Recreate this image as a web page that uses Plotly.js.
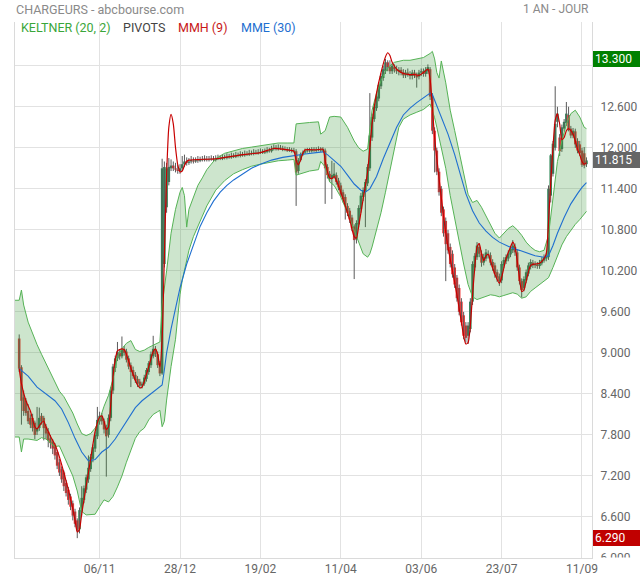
<!DOCTYPE html>
<html><head><meta charset="utf-8">
<script src="https://cdn.plot.ly/plotly-3.0.1.min.js"></script>
<style>html,body{margin:0;padding:0;background:#fff}#chart{width:640px;height:580px}</style>
</head><body><div id="chart"></div>
<script>
// ---- DATA ----
const firstIdx = 2; // index of first candle on the daily axis
const opens = [
9.21,8.79,8.35,8.30,8.15,8.05,8.05,7.98,7.85,7.90,
8.08,8.05,7.92,7.85,7.75,7.70,7.65,7.55,7.40,7.30,
7.25,7.10,7.00,6.90,6.80,6.68,6.55,6.42,6.68,6.85,
7.00,7.15,7.30,7.45,7.60,7.78,8.00,8.08,8.00,7.90,
7.80,8.05,8.45,8.78,8.92,9.00,8.95,9.05,9.02,8.92,
8.82,8.75,8.68,8.62,8.58,8.52,8.55,8.62,8.72,8.82,
8.95,9.05,8.98,8.85,8.70,10.30,11.13,11.50,11.70,11.74,
11.70,11.68,11.66,11.70,11.76,11.80,11.78,11.80,11.81,11.80,
11.82,11.81,11.83,11.82,11.83,11.82,11.83,11.84,11.82,11.84,
11.85,11.84,11.86,11.85,11.87,11.86,11.88,11.87,11.89,11.88,
11.90,11.89,11.91,11.90,11.92,11.91,11.93,11.92,11.93,11.94,
11.93,11.94,11.96,11.95,11.98,12.00,11.98,12.00,11.99,11.97,
11.98,11.96,11.97,11.95,11.95,11.66,11.82,11.90,11.93,11.95,
11.96,11.95,11.97,11.96,11.97,11.98,11.96,11.96,11.72,11.62,
11.55,11.58,11.60,11.52,11.45,11.35,11.28,11.15,11.08,10.98,
10.85,10.66,10.88,11.10,11.28,11.36,11.48,11.70,12.15,12.42,
12.58,12.72,12.90,13.02,13.12,13.25,13.18,13.12,13.18,13.15,
13.12,13.14,13.10,13.06,13.10,13.08,13.05,13.10,13.06,13.04,
13.10,13.12,13.08,13.12,13.15,12.75,12.25,11.96,11.65,11.40,
11.10,10.93,10.75,10.55,10.45,10.25,10.10,9.95,9.75,9.55,
9.40,9.25,9.35,9.75,10.25,10.40,10.55,10.45,10.32,10.38,
10.45,10.43,10.33,10.28,10.18,10.12,10.06,10.28,10.34,10.38,
10.44,10.50,10.55,10.47,10.25,10.05,9.95,10.06,10.16,10.26,
10.32,10.28,10.29,10.27,10.31,10.35,10.38,10.40,11.30,11.62,
12.00,12.38,12.15,11.98,12.28,12.36,12.48,12.28,12.18,12.24,
12.10,12.05,11.96,11.92,11.76];
const highs = [
9.27,8.82,8.45,8.34,8.25,8.10,8.11,8.01,8.21,8.20,
8.12,8.08,7.96,7.90,7.80,7.74,7.68,7.58,7.45,7.34,
7.28,7.14,7.04,6.94,6.84,6.72,6.58,6.74,7.05,7.06,
7.22,7.50,7.52,7.66,7.85,8.21,8.14,8.12,8.04,7.95,
8.10,8.50,8.84,8.96,9.16,9.05,9.24,9.10,9.06,8.96,
8.86,8.80,8.72,8.66,8.62,8.58,8.68,8.78,8.88,9.02,
9.25,9.10,9.02,8.88,11.84,11.80,11.78,11.85,11.83,11.80,
11.78,11.75,11.76,11.88,11.90,11.86,11.85,11.88,11.86,11.86,
11.88,11.87,11.88,11.89,11.88,11.88,11.89,11.88,11.89,11.90,
11.89,11.91,11.90,11.92,11.91,11.93,11.92,11.94,11.93,11.95,
11.94,11.96,11.95,11.97,11.96,11.98,11.97,11.98,11.99,11.98,
11.99,12.01,12.00,12.03,12.05,12.04,12.05,12.04,12.03,12.02,
12.01,12.01,12.00,12.00,11.98,11.85,11.93,11.96,11.99,12.00,
12.00,12.01,12.01,12.01,12.02,12.01,12.01,11.99,11.76,11.66,
11.81,11.78,11.64,11.56,11.49,11.39,11.32,11.19,11.12,11.02,
10.88,10.94,11.16,11.34,11.42,11.54,11.76,12.80,12.50,12.64,
12.80,12.96,13.09,13.20,13.30,13.28,13.28,13.24,13.22,13.20,
13.18,13.18,13.15,13.14,13.16,13.12,13.14,13.14,13.10,13.14,
13.16,13.16,13.18,13.22,13.18,12.80,12.30,12.00,11.70,11.44,
11.14,10.98,10.80,10.60,10.50,10.30,10.14,10.00,9.80,9.60,
9.45,9.45,9.80,10.34,10.46,10.62,10.60,10.50,10.45,10.52,
10.50,10.47,10.37,10.32,10.22,10.16,10.34,10.40,10.44,10.50,
10.56,10.65,10.60,10.51,10.29,10.09,10.12,10.22,10.32,10.37,
10.36,10.34,10.33,10.36,10.40,10.44,10.46,11.45,11.91,12.10,
12.90,12.60,12.20,12.34,12.42,12.67,12.60,12.32,12.29,12.28,
12.14,12.10,12.00,12.01,11.86];
const lows = [
8.72,7.95,8.08,8.08,7.96,7.90,7.85,7.74,7.80,7.86,
7.95,7.72,7.74,7.62,7.60,7.52,7.44,7.30,7.20,7.10,
6.98,6.90,6.78,6.70,6.55,6.45,6.29,6.36,6.62,6.80,
6.95,7.10,7.26,7.40,7.55,7.74,7.95,7.95,7.82,7.19,
7.76,8.00,8.40,8.72,8.88,8.90,8.92,8.96,8.86,8.76,
8.50,8.62,8.56,8.50,8.48,8.48,8.52,8.58,8.68,8.78,
8.92,8.94,8.78,8.66,8.68,10.25,11.05,11.45,11.66,11.66,
11.64,11.62,11.62,11.66,11.72,11.74,11.75,11.77,11.77,11.78,
11.78,11.79,11.80,11.80,11.80,11.80,11.81,11.80,11.80,11.82,
11.82,11.82,11.83,11.83,11.84,11.84,11.85,11.85,11.86,11.86,
11.87,11.87,11.88,11.88,11.89,11.89,11.90,11.90,11.91,11.91,
11.91,11.92,11.93,11.93,11.96,11.96,11.96,11.97,11.95,11.95,
11.94,11.94,11.93,11.93,11.15,11.62,11.80,11.88,11.91,11.93,
11.93,11.93,11.94,11.94,11.95,11.94,11.94,11.18,11.55,11.50,
11.25,11.55,11.46,11.38,11.28,11.20,10.95,11.00,10.90,10.78,
10.08,10.60,10.84,11.05,11.22,10.84,11.44,11.66,12.10,12.38,
12.54,12.68,12.86,12.98,13.08,13.12,13.08,13.08,13.10,13.08,
13.06,13.06,13.02,13.02,13.04,13.00,13.00,13.02,12.88,13.00,
13.05,13.04,13.04,13.08,12.70,12.20,11.64,11.60,11.30,11.00,
10.70,10.05,10.45,10.25,10.10,9.95,9.75,9.55,9.40,9.20,
9.15,9.13,9.30,9.70,10.20,10.36,10.40,10.26,10.28,10.34,
10.38,10.28,10.20,10.10,10.04,9.98,10.02,10.24,10.30,10.34,
10.40,10.46,10.42,10.20,10.00,9.81,9.90,10.02,10.12,10.22,
10.24,10.24,10.23,10.23,10.28,10.32,10.34,10.36,11.20,11.58,
11.96,12.30,11.88,11.94,12.24,12.32,12.24,12.14,12.14,12.00,
11.92,11.88,11.72,11.70,11.72];
const closes = [
8.77,8.30,8.15,8.12,8.00,7.95,7.90,7.80,7.90,8.05,
8.00,7.90,7.82,7.72,7.68,7.60,7.50,7.35,7.25,7.15,
7.05,6.95,6.85,6.75,6.62,6.50,6.40,6.70,6.88,7.02,
7.18,7.32,7.48,7.62,7.80,8.02,8.08,8.00,7.88,7.78,
8.05,8.45,8.80,8.92,9.02,8.95,9.05,9.00,8.90,8.80,
8.72,8.66,8.60,8.55,8.52,8.55,8.64,8.75,8.85,8.98,
9.06,8.98,8.82,8.70,11.70,11.72,11.70,11.72,11.74,11.70,
11.68,11.66,11.70,11.76,11.80,11.78,11.80,11.82,11.80,11.82,
11.81,11.83,11.82,11.84,11.82,11.83,11.84,11.82,11.84,11.85,
11.84,11.86,11.85,11.87,11.86,11.88,11.87,11.89,11.88,11.90,
11.89,11.91,11.90,11.92,11.91,11.93,11.92,11.93,11.94,11.93,
11.94,11.96,11.95,11.98,12.00,11.98,12.00,11.99,11.97,11.98,
11.96,11.97,11.95,11.96,11.64,11.82,11.90,11.93,11.95,11.96,
11.95,11.97,11.96,11.97,11.98,11.96,11.98,11.70,11.60,11.55,
11.60,11.62,11.50,11.42,11.32,11.25,11.15,11.05,10.95,10.82,
10.65,10.90,11.12,11.30,11.38,11.50,11.72,12.18,12.45,12.60,
12.75,12.92,13.05,13.15,13.25,13.18,13.12,13.20,13.15,13.12,
13.14,13.10,13.06,13.10,13.08,13.05,13.10,13.06,13.03,13.10,
13.12,13.08,13.14,13.18,12.75,12.25,11.96,11.65,11.35,11.05,
10.75,10.59,10.50,10.30,10.15,10.00,9.80,9.60,9.45,9.25,
9.22,9.40,9.75,10.30,10.42,10.57,10.45,10.32,10.40,10.47,
10.43,10.32,10.25,10.16,10.10,10.05,10.30,10.36,10.40,10.45,
10.52,10.57,10.47,10.25,10.05,9.92,10.08,10.18,10.28,10.33,
10.28,10.30,10.27,10.32,10.36,10.40,10.42,11.40,11.89,12.06,
12.35,12.50,11.95,12.30,12.38,12.50,12.28,12.18,12.25,12.05,
11.96,11.92,11.75,11.74,11.815];

// Keltner (20, 2) channel, read at these day indices
const kx = [0,2,3,4,6,8,10,12,14,16, 18,20,22,24,26,28,30,32,34,36, 38,40,42,44,46,48,50,52,54,56,
58,60,62,64,65,66,67,68,70,72, 74,75,76,77,78,80,82,84,86,88, 90,94,98,102,106,110,114,118,122,125,
126,128,132,136,137,139,141,143,146,149, 152,154,156,158,159,160,162,164,166,168, 170,172,174,177,180,183,186,187,188,189,
190,191,193,195,197,199,201,203,205,207, 209,211,213,215,217,219,221,223,225,227, 229,231,233,235,237,239,241,243,245,247,
249,251,253,255,256];
const kUpper = [9.77,9.77,9.92,9.70,9.45,9.28,9.12,8.98,8.85,8.72, 8.58,8.44,8.36,8.24,8.12,7.96,7.82,7.79,7.82,7.90, 8.02,8.22,8.38,8.62,8.95,9.06,9.14,9.18,9.05,9.02,
9.04,9.08,9.11,9.14,9.16,9.70,10.00,10.20,10.75,11.10, 11.35,11.42,11.30,10.84,11.10,11.28,11.45,11.56,11.68,11.76, 11.84,11.92,11.96,11.99,12.01,12.03,12.05,12.07,12.07,12.07,
12.35,12.36,12.37,12.38,12.20,12.25,12.45,12.46,12.45,12.30, 12.10,12.00,11.95,11.98,12.30,12.55,12.80,12.98,13.12,13.20, 13.25,13.27,13.28,13.28,13.30,13.32,13.38,13.41,13.30,13.10,
13.02,13.27,12.95,12.55,12.25,11.95,11.60,11.32,11.20,11.23, 11.13,11.00,10.88,10.75,10.68,10.75,10.82,10.86,10.80,10.72, 10.62,10.55,10.50,10.48,10.50,10.72,11.30,11.80,12.10,12.35,
12.50,12.55,12.45,12.30,12.28];
const kLower = [7.77,7.77,7.55,7.74,7.74,7.73,7.72,7.76,7.74,7.68, 7.63,7.64,7.50,7.36,7.20,6.98,6.68,6.63,6.63,6.64, 6.75,6.85,6.82,6.90,7.04,7.20,7.40,7.58,7.75,7.85,
7.90,8.02,8.10,8.14,8.16,7.92,8.00,8.31,8.80,9.20, 9.85,10.06,10.20,10.35,10.50,10.70,10.86,11.00,11.15,11.27, 11.38,11.52,11.62,11.68,11.73,11.76,11.79,11.81,11.82,11.83,
11.60,11.62,11.66,11.68,11.80,11.72,11.50,11.45,11.28,11.05, 10.80,10.62,10.45,10.40,10.45,10.55,10.80,11.05,11.35,11.65, 11.95,12.30,12.42,12.48,12.52,12.56,12.64,12.55,12.44,12.30,
12.15,12.05,11.70,11.30,10.95,10.60,10.30,10.00,9.82,9.78, 9.80,9.82,9.85,9.84,9.82,9.84,9.86,9.88,9.86,9.80, 9.82,9.90,9.95,10.00,10.04,10.10,10.25,10.42,10.58,10.70,
10.80,10.88,10.95,11.03,11.07];

// MMH (9)
const mmhX = [2,3,5,7,9,10,12,13,14,16, 18,20,22,24,26,27,28,29,30,32, 34,36,38,39,40,41,42,43,44,45,
46,47,48,49,50,52,54,55,56,57, 58,60,62,63,64,65,66,67,68,69, 70,71,72,73,74,75,76,77,78,90,
100,110,116,120,124,125,126,127,128,129, 130,135,138,139,140,141,142,143,144,146, 148,150,152,153,154,156,158,159,160,162,
164,166,167,168,169,171,173,175,177,179, 181,183,185,186,187,188,190,192,194,196, 198,200,201,202,203,204,205,206,207,208,
209,210,211,212,213,215,217,218,220,222, 223,224,225,226,227,228,229,231,233,235, 237,238,239,240,241,242,243,244,245,246,
247,248,249,250,251,252,253,254,255,256];
const mmhY = [8.77,8.55,8.30,8.15,7.92,7.89,7.98,8.00,7.92,7.78, 7.66,7.48,7.25,7.00,6.72,6.55,6.38,6.42,6.65,7.05, 7.45,7.85,8.06,8.08,8.00,7.88,7.92,8.25,8.65,8.90,
9.03,9.05,9.06,9.05,8.98,8.78,8.60,8.53,8.49,8.50, 8.58,8.80,9.02,9.06,8.98,8.80,9.20,10.40,11.60,12.30, 12.49,12.35,12.00,11.75,11.65,11.66,11.74,11.80,11.82,11.84,
11.89,11.93,11.99,11.98,11.96,11.95,11.82,11.75,11.82,11.92, 11.97,11.97,11.98,11.82,11.65,11.56,11.55,11.58,11.52,11.35, 11.15,10.95,10.70,10.68,10.85,11.25,11.65,12.00,12.35,12.80,
13.10,13.33,13.39,13.35,13.25,13.15,13.10,13.08,13.07,13.07, 13.06,13.10,13.15,13.00,12.60,12.15,11.55,11.00,10.55,10.20, 9.85,9.45,9.25,9.13,9.15,9.40,9.85,10.25,10.55,10.60,
10.45,10.35,10.42,10.44,10.35,10.15,10.02,10.10,10.38,10.55, 10.62,10.55,10.35,10.10,9.90,9.92,10.05,10.28,10.30,10.31, 10.38,10.45,10.90,11.50,12.00,12.40,12.50,12.35,12.12,12.15,
12.25,12.28,12.25,12.20,12.10,11.98,11.90,11.80,11.76,11.78];

// MME (30)
const mmeX = [2,6,10,14,18,21,24,27,30,33, 36,39,42,45,48,51,54,57,60,63, 66,67,68,70,72,74,77,80,83,86,
89,92,95,98,102,106,110,115,120,125, 130,135,138,140,143,146,149,152,155,157, 159,162,165,168,171,174,177,180,183,186,
187,189,191,194,197,200,202,205,208,211, 214,217,220,223,226,230,233,237,239,241, 243,246,249,252,254,256];
const mmeY = [8.77,8.66,8.50,8.40,8.30,8.18,7.98,7.75,7.55,7.42, 7.44,7.55,7.62,7.74,7.90,8.06,8.20,8.30,8.38,8.45, 8.53,8.75,9.00,9.35,9.65,9.95,10.30,10.58,10.85,11.05,
11.22,11.35,11.45,11.53,11.62,11.70,11.76,11.82,11.86,11.89, 11.91,11.93,11.94,11.90,11.82,11.73,11.60,11.47,11.38,11.35, 11.40,11.58,11.84,12.08,12.30,12.48,12.58,12.66,12.73,12.80,
12.78,12.62,12.46,12.20,11.90,11.57,11.33,11.08,10.90,10.78, 10.69,10.62,10.57,10.53,10.50,10.45,10.42,10.40,10.42,10.57, 10.75,10.98,11.18,11.33,11.42,11.49];

const xTickIdx = [38,74,110,146,182,218,254];
const xTickText = ['06/11','28/12','19/02','11/04','03/06','23/07','11/09'];
const yTicks = [6.0,6.6,7.2,7.8,8.4,9.0,9.6,10.2,10.8,11.4,12.0,12.6,13.2];
const periodHigh = 13.300, periodLow = 6.290, lastClose = 11.815;

// ---- BUILD TRACES ----
const FONT = 'Roboto, "Open Sans", sans-serif';
const xs = opens.map((_, i) => firstIdx + i);
const wx = [], wy = [];
xs.forEach((x, i) => { wx.push(x, x, null); wy.push(lows[i], highs[i], null); });
const up = {x: [], base: [], y: []}, dn = {x: [], base: [], y: []};
xs.forEach((x, i) => {
  const o = opens[i], c = closes[i];
  if (c >= o) { up.x.push(x); up.base.push(o); up.y.push(c - o); }
  else { dn.x.push(x); dn.base.push(c); dn.y.push(o - c); }
});

const traces = [
  {type: 'scatter', mode: 'lines', x: wx, y: wy, line: {color: '#5a5a5a', width: 1}, hoverinfo: 'skip', connectgaps: false},
  {type: 'bar', x: up.x, base: up.base, y: up.y, width: 1.15, marker: {color: '#2f8a58', line: {width: 0}}, hoverinfo: 'skip'},
  {type: 'bar', x: dn.x, base: dn.base, y: dn.y, width: 1.15, marker: {color: '#f23030', line: {width: 0}}, hoverinfo: 'skip'},
  {type: 'scatter', mode: 'lines', x: kx, y: kUpper, line: {color: '#56b356', width: 1}, hoverinfo: 'skip'},
  {type: 'scatter', mode: 'lines', x: kx, y: kLower, line: {color: '#56b356', width: 1}, fill: 'tonexty', fillcolor: 'rgba(55,150,55,0.25)', hoverinfo: 'skip'},
  {type: 'scatter', mode: 'lines', x: mmeX, y: mmeY, line: {color: '#1f6fd0', width: 1.1}, hoverinfo: 'skip'},
  {type: 'scatter', mode: 'lines', x: mmhX, y: mmhY, line: {color: '#c80000', width: 1.2, shape: 'spline', smoothing: 0.6}, hoverinfo: 'skip'}
];

// pixel helpers for the plot frame (plot area: x 15..592, y 22..558)
const PX0 = 15, PW = 577, PY1 = 558, PH = 536;
const px = v => (v - PX0) / PW;
const py = v => (PY1 - v) / PH;

function priceBox(val, color) {
  return {xref: 'paper', yref: 'y', x: px(593), y: val, xanchor: 'left', yanchor: 'middle',
    text: val.toFixed(3), showarrow: false, bgcolor: color, bordercolor: color, borderwidth: 0,
    borderpad: 2, width: 43, height: 12, align: 'left',
    font: {family: FONT, size: 12, color: '#ffffff'}};
}

const annotations = [
  {xref: 'paper', yref: 'paper', x: px(14), y: py(9), xanchor: 'left', yanchor: 'middle', showarrow: false,
   text: 'CHARGEURS - abcbourse.com', font: {family: FONT, size: 12.5, color: '#8a8a8a'}},
  {xref: 'paper', yref: 'paper', x: px(591), y: py(9), xanchor: 'right', yanchor: 'middle', showarrow: false,
   text: '1 AN - JOUR', font: {family: FONT, size: 12, color: '#8a8a8a'}},
  {xref: 'paper', yref: 'paper', x: px(19), y: py(28), xanchor: 'left', yanchor: 'middle', showarrow: false,
   text: 'KELTNER (20, 2)', font: {family: FONT, size: 12.5, color: '#3aa63a'}},
  {xref: 'paper', yref: 'paper', x: px(120.5), y: py(28), xanchor: 'left', yanchor: 'middle', showarrow: false,
   text: 'PIVOTS', font: {family: FONT, size: 12.5, color: '#444444'}},
  {xref: 'paper', yref: 'paper', x: px(175.5), y: py(28), xanchor: 'left', yanchor: 'middle', showarrow: false,
   text: 'MMH (9)', font: {family: FONT, size: 12.5, color: '#c81818'}},
  {xref: 'paper', yref: 'paper', x: px(239), y: py(28), xanchor: 'left', yanchor: 'middle', showarrow: false,
   text: 'MME (30)', font: {family: FONT, size: 12.5, color: '#1f6fd0'}},
  priceBox(periodHigh, '#008000'),
  priceBox(lastClose, '#666666'),
  priceBox(periodLow, '#c00000')
];

const layout = {
  width: 640, height: 580,
  margin: {l: 15, r: 48, t: 22, b: 22, pad: 0},
  paper_bgcolor: '#ffffff', plot_bgcolor: '#ffffff',
  showlegend: false, barmode: 'overlay', hovermode: false,
  font: {family: FONT, size: 12, color: '#666'},
  xaxis: {range: [0.12, 258.48], tickmode: 'array', tickvals: xTickIdx, ticktext: xTickText,
    showgrid: true, gridcolor: '#e2e2e2', gridwidth: 1, zeroline: false,
    showline: true, linecolor: '#dadada', linewidth: 1, ticks: '',
    tickfont: {family: FONT, size: 12, color: '#666666'}, fixedrange: true},
  yaxis: {side: 'right', range: [6.0, 13.84], tickmode: 'array', tickvals: yTicks,
    // 13.200 sits under the period-high box in the reference, so its label is left blank
    ticktext: yTicks.map(v => v === 13.2 ? '' : v.toFixed(3)),
    showgrid: true, gridcolor: '#e2e2e2', gridwidth: 1, zeroline: false,
    showline: true, mirror: true, linecolor: '#dadada', linewidth: 1, ticks: '',
    ticklabelstandoff: 5,
    tickfont: {family: FONT, size: 12, color: '#666666'}, fixedrange: true},
  shapes: [
    {type: 'rect', xref: 'paper', yref: 'paper', x0: px(598), x1: px(640), y0: py(572), y1: py(557.6),
     fillcolor: '#ffffff', line: {width: 0}, layer: 'above'}
  ],
  annotations: annotations
};

Plotly.newPlot('chart', traces, layout, {displayModeBar: false, staticPlot: true});
</script>
</body></html>
